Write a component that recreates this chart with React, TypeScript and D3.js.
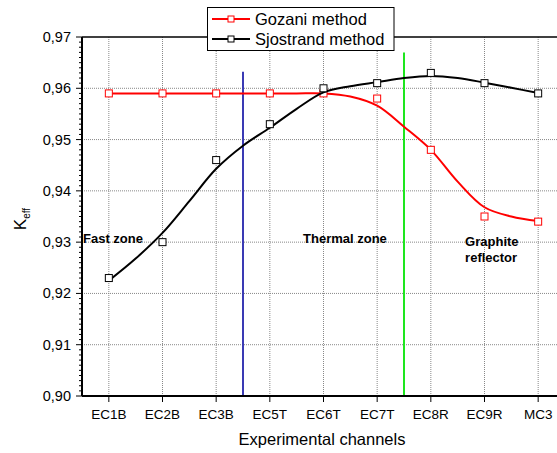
import React from "react";
import * as d3 from "d3";

const categories = ["EC1B", "EC2B", "EC3B", "EC5T", "EC6T", "EC7T", "EC8R", "EC9R", "MC3"];
const gozani = [0.959, 0.959, 0.959, 0.959, 0.959, 0.958, 0.948, 0.935, 0.934];
const sjostrand = [0.923, 0.93, 0.946, 0.953, 0.96, 0.961, 0.963, 0.961, 0.959];
// fitted curves read at half-category positions
const fitPositions = [1, 1.5, 2, 2.5, 3, 3.5, 4, 4.5, 5, 5.5, 6, 6.5, 7, 7.5, 8, 8.5, 9];
const gozaniFit = [0.959, 0.959, 0.959, 0.959, 0.959, 0.959, 0.959, 0.959, 0.959, 0.9584, 0.9566, 0.9525, 0.948, 0.9418, 0.9368, 0.935, 0.9341];
const sjostrandFit = [0.9225, 0.9268, 0.9318, 0.938, 0.9443, 0.9488, 0.9523, 0.956, 0.9592, 0.9604, 0.9612, 0.962, 0.9624, 0.962, 0.9611, 0.9601, 0.9591];
const yTicks = [0.9, 0.91, 0.92, 0.93, 0.94, 0.95, 0.96, 0.97];
const zoneLines = [
  { pos: 3.5, top: 0.9632, color: "#3a3ab4" },
  { pos: 6.5, top: 0.967, color: "#1ee61e" },
];
const zoneLabels = [
  { pos: 0.5, value: 0.9298, lines: ["Fast zone"] },
  { pos: 4.6, value: 0.9298, lines: ["Thermal zone"] },
  { pos: 7.62, value: 0.9293, lines: ["Graphite", "reflector"] },
];
const seriesNames = ["Gozani method", "Sjostrand method"];
const seriesColors = ["#ff0000", "#000000"];

const W = 557, H = 453;
const L = 82, R = 565, T = 37, B = 396;
const FONT = "Arial, 'Liberation Sans', sans-serif";

export default function App() {
  const x = d3.scaleLinear().domain([0.5, 9.5]).range([L, R]);
  const y = d3.scaleLinear().domain([0.9, 0.97]).range([B, T]);
  const minor = d3.range(0, 71).map((i) => 0.9 + i * 0.001);
  const line = d3
    .line<number>()
    .x((_, i) => x(fitPositions[i]))
    .y((d) => y(d))
    .curve(d3.curveCatmullRom.alpha(0.5));
  const series = [gozani, sjostrand];
  const fits = [gozaniFit, sjostrandFit];
  const ms = 7;

  return (
    <svg width={W} height={H} style={{ position: "absolute", left: 0, top: 0, background: "#fff" }} fontFamily={FONT}>
      {/* grid */}
      {yTicks.slice(1, -1).map((t) => (
        <line key={"gy" + t} x1={L} x2={R} y1={y(t)} y2={y(t)} stroke="#888" strokeWidth={1} strokeDasharray="1,1" />
      ))}
      {categories.map((c, i) => (
        <line key={"gx" + c} x1={x(i + 1)} x2={x(i + 1)} y1={T} y2={B} stroke="#888" strokeWidth={1} strokeDasharray="1,1" />
      ))}
      {/* zone lines */}
      {zoneLines.map((z) => (
        <line key={"z" + z.pos} x1={x(z.pos)} x2={x(z.pos)} y1={y(z.top)} y2={B} stroke={z.color} strokeWidth={2} />
      ))}
      {/* curves and markers */}
      {series.map((s, si) => (
        <g key={"s" + si}>
          <path d={line(fits[si]) || ""} fill="none" stroke={seriesColors[si]} strokeWidth={2} />
          {s.map((v, i) => (
            <rect key={i} x={x(i + 1) - ms / 2} y={y(v) - ms / 2} width={ms} height={ms} fill="#fff" stroke={seriesColors[si]} strokeWidth={1} />
          ))}
        </g>
      ))}
      {/* frame */}
      <line x1={L} x2={R} y1={T} y2={T} stroke="#000" strokeWidth={1.5} />
      <line x1={L} x2={R} y1={B} y2={B} stroke="#000" strokeWidth={2} />
      <line x1={L} x2={L} y1={T} y2={B} stroke="#000" strokeWidth={2} />
      {/* y ticks */}
      {minor.map((m, i) => (
        <line key={"ym" + i} x1={L - (i % 10 === 0 ? 6 : 3)} x2={L} y1={y(m)} y2={y(m)} stroke="#000" strokeWidth={1} />
      ))}
      {yTicks.map((t) => (
        <text key={"yl" + t} x={L - 11} y={y(t) + 5} textAnchor="end" fontSize={14.5} fill="#000">
          {t.toFixed(2).replace(".", ",")}
        </text>
      ))}
      {/* x ticks */}
      {categories.map((c, i) => (
        <g key={"xt" + c}>
          <line x1={x(i + 1)} x2={x(i + 1)} y1={B} y2={B + 6} stroke="#000" strokeWidth={1} />
          <text x={x(i + 1)} y={419} textAnchor="middle" fontSize={13.5} fill="#000">
            {c}
          </text>
        </g>
      ))}
      <text x={322} y={445} textAnchor="middle" fontSize={16.5} fill="#000">
        Experimental channels
      </text>
      <text transform={`translate(26,${219}) rotate(-90)`} textAnchor="middle" fontSize={17} fill="#000">
        K<tspan fontSize={10} dy={4}>eff</tspan>
      </text>
      {/* zone labels */}
      {zoneLabels.map((z, zi) => (
        <text key={"zl" + zi} x={x(z.pos) + 1} y={y(z.value)} fontSize={13} fontWeight="bold" fill="#000">
          {z.lines.map((ln, li) => (
            <tspan key={li} x={x(z.pos) + 1} dy={li === 0 ? 0 : 16}>
              {ln}
            </tspan>
          ))}
        </text>
      ))}
      {/* legend */}
      <rect x={207.5} y={7.5} width={186.5} height={43} fill="#fff" stroke="#000" strokeWidth={1} />
      {seriesNames.map((n, i) => (
        <g key={"lg" + i}>
          <line x1={212} x2={250} y1={19 + i * 20} y2={19 + i * 20} stroke={seriesColors[i]} strokeWidth={2} />
          <rect x={231 - 3} y={19 + i * 20 - 3} width={6} height={6} fill="#fff" stroke={seriesColors[i]} strokeWidth={1} />
          <text x={255} y={25 + i * 20} fontSize={16.5} fill="#000">
            {n}
          </text>
        </g>
      ))}
    </svg>
  );
}
